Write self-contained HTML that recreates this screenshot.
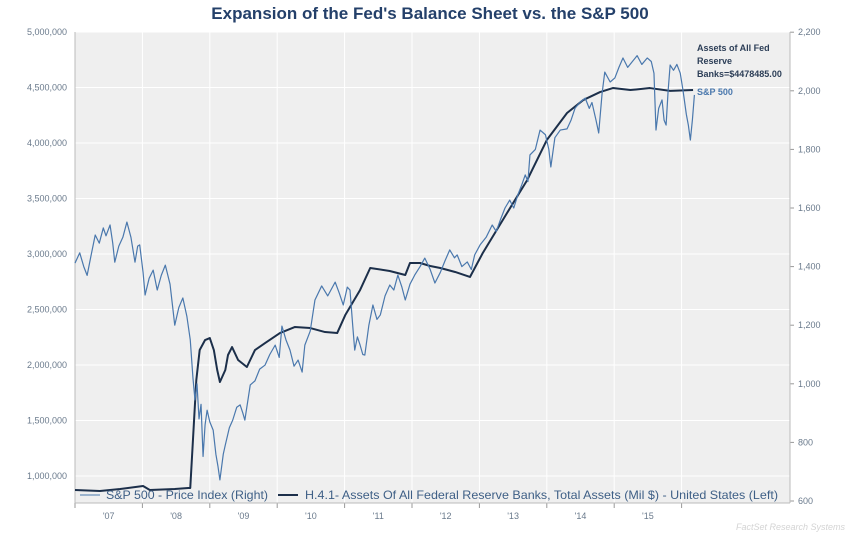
<!DOCTYPE html>
<html><head><meta charset="utf-8"><style>
html,body{margin:0;padding:0;background:#fff;}
svg{display:block;font-family:"Liberation Sans",sans-serif;}
</style></head><body>
<svg id="chart" width="852" height="534">
<text x="430" y="19" text-anchor="middle" font-size="17" font-weight="bold" fill="#24406a">Expansion of the Fed's Balance Sheet vs. the S&amp;P 500</text>
<rect x="75" y="32" width="715" height="471" fill="#efefef"/>
<g id="grid"></g><g id="axes"></g><g id="series"></g>
<g>
<line x1="80" y1="495" x2="100" y2="495" stroke="#4a78ad" stroke-width="1"/>
<text x="106" y="499" font-size="12" fill="#3e5f86" textLength="162" lengthAdjust="spacingAndGlyphs">S&amp;P 500 - Price Index (Right)</text>
<line x1="278" y1="495" x2="298" y2="495" stroke="#1c2f4a" stroke-width="2"/>
<text x="305" y="499" font-size="12" fill="#3e5f86" textLength="473" lengthAdjust="spacingAndGlyphs">H.4.1- Assets Of All Federal Reserve Banks, Total Assets (Mil $) - United States (Left)</text>
</g>
<g>
<text x="697" y="51" font-size="9" font-weight="bold" fill="#2c3e57"><tspan x="697">Assets of All Fed</tspan><tspan x="697" dy="13">Reserve</tspan><tspan x="697" dy="13">Banks=$4478485.00</tspan></text>
<text x="697" y="95" font-size="9" font-weight="bold" fill="#4a78ad">S&amp;P 500</text>
</g>
<text x="845" y="530" text-anchor="end" font-size="9" font-style="italic" fill="#d4d4d4">FactSet Research Systems</text>
</svg>
<script>
const leftTicks=[1000000,1500000,2000000,2500000,3000000,3500000,4000000,4500000,5000000];
const rightTicks=[600,800,1000,1200,1400,1600,1800,2000,2200];
const yearTicks=[2007,2008,2009,2010,2011,2012,2013,2014,2015,2016];
const yearLabels=["'07","'08","'09","'10","'11","'12","'13","'14","'15"];
const fedDates=[2007.0,2007.37,2007.67,2008.01,2008.11,2008.48,2008.68,2008.71,2008.75,2008.8,2008.85,2008.93,2009.0,2009.06,2009.11,2009.15,2009.23,2009.27,2009.33,2009.42,2009.55,2009.67,2009.82,2010.04,2010.26,2010.49,2010.71,2010.89,2011.01,2011.23,2011.38,2011.67,2011.9,2011.97,2012.12,2012.27,2012.42,2012.64,2012.86,2013.05,2013.41,2013.71,2014.0,2014.3,2014.54,2014.79,2014.98,2015.24,2015.53,2015.83,2016.17];
const fedValues=[874000,865000,883000,910000,874000,883000,892000,892000,1324000,1865000,2135000,2225000,2243000,2135000,1955000,1847000,1955000,2090000,2162000,2045000,1982000,2135000,2198000,2288000,2342000,2333000,2297000,2288000,2450000,2676000,2874000,2847000,2811000,2919000,2919000,2892000,2874000,2838000,2793000,3009000,3369000,3667000,4027000,4270000,4387000,4459000,4495000,4477000,4495000,4470000,4478000];
const spDates=[2007.0,2007.07,2007.13,2007.18,2007.24,2007.3,2007.36,2007.42,2007.46,2007.52,2007.56,2007.59,2007.65,2007.71,2007.77,2007.83,2007.89,2007.93,2007.96,2008.01,2008.04,2008.1,2008.16,2008.22,2008.28,2008.34,2008.41,2008.48,2008.54,2008.6,2008.66,2008.71,2008.75,2008.78,2008.81,2008.84,2008.87,2008.9,2008.93,2008.96,2009.0,2009.05,2009.09,2009.12,2009.15,2009.2,2009.23,2009.29,2009.34,2009.4,2009.45,2009.49,2009.52,2009.6,2009.67,2009.74,2009.82,2009.89,2009.97,2010.03,2010.07,2010.13,2010.19,2010.25,2010.31,2010.37,2010.41,2010.49,2010.56,2010.66,2010.75,2010.86,2010.92,2010.98,2011.04,2011.08,2011.12,2011.15,2011.19,2011.23,2011.27,2011.3,2011.36,2011.42,2011.48,2011.53,2011.6,2011.67,2011.73,2011.79,2011.85,2011.9,2011.97,2012.04,2012.12,2012.19,2012.27,2012.34,2012.42,2012.49,2012.56,2012.63,2012.67,2012.74,2012.82,2012.88,2012.93,2013.01,2013.1,2013.19,2013.25,2013.31,2013.38,2013.45,2013.51,2013.57,2013.63,2013.68,2013.72,2013.75,2013.83,2013.9,2013.98,2014.03,2014.06,2014.12,2014.2,2014.3,2014.36,2014.42,2014.49,2014.57,2014.63,2014.67,2014.73,2014.77,2014.82,2014.86,2014.94,2015.01,2015.07,2015.13,2015.2,2015.27,2015.34,2015.41,2015.49,2015.55,2015.59,2015.62,2015.66,2015.71,2015.74,2015.77,2015.8,2015.83,2015.88,2015.93,2015.98,2016.02,2016.07,2016.1,2016.13,2016.16,2016.19];
const spValues=[1412,1447,1400,1370,1440,1508,1480,1532,1505,1542,1480,1415,1470,1500,1552,1500,1415,1470,1474,1380,1303,1360,1388,1320,1370,1405,1340,1200,1260,1293,1230,1150,1020,945,1000,880,930,752,860,910,870,842,760,720,672,760,791,850,876,920,928,900,876,996,1010,1050,1064,1100,1132,1090,1197,1150,1115,1060,1081,1040,1132,1180,1286,1334,1300,1347,1310,1269,1330,1320,1200,1115,1160,1132,1100,1098,1200,1269,1220,1235,1300,1337,1320,1371,1330,1286,1340,1371,1400,1429,1390,1344,1380,1420,1457,1430,1440,1400,1416,1390,1440,1474,1500,1542,1520,1559,1600,1627,1600,1645,1680,1713,1690,1781,1800,1866,1850,1800,1740,1840,1866,1870,1900,1941,1960,1975,1940,1960,1900,1856,1990,2064,2030,2044,2080,2112,2080,2100,2120,2090,2112,2100,2060,1866,1940,1969,1900,1883,2000,2088,2070,2090,2060,2003,1920,1883,1832,1900,1986];

const NS="http://www.w3.org/2000/svg";
const X0=75,X1=790,Y0=32,Y1=503;
const xScale=t=>X0+(t-2007)*67.4;
const yLeft=v=>476-(v-1000000)/500000*55.5;
const yRight=v=>501-(v-600)/200*58.6;
function mk(tag,attrs,parent){const e=document.createElementNS(NS,tag);for(const k in attrs)e.setAttribute(k,attrs[k]);parent.appendChild(e);return e;}
const grid=document.getElementById('grid'),axes=document.getElementById('axes'),series=document.getElementById('series');
leftTicks.forEach(v=>{const y=yLeft(v);
 const g=mk('line',{x1:X0,x2:X1,y1:y,y2:y,stroke:'#ffffff','stroke-width':1},grid);
 
 
 const t=mk('text',{x:67,y:y+3,'text-anchor':'end','font-size':9,fill:'#6a7a8c'},axes);
 t.textContent=v.toLocaleString('en-US');
 
 
});
rightTicks.forEach(v=>{const y=yRight(v);
 mk('line',{x1:X1,x2:X1+4,y1:y,y2:y,stroke:'#999'},axes);
 const t=mk('text',{x:798,y:y+3,'font-size':9,fill:'#6a7a8c'},axes);
 t.textContent=v.toLocaleString('en-US');
 
 
});
yearTicks.forEach((yr,i)=>{const x=xScale(yr);
 const g=mk('line',{x1:x,x2:x,y1:Y0,y2:Y1,stroke:'#ffffff','stroke-width':1},grid);
 
 
 mk('line',{x1:x,x2:x,y1:Y1,y2:Y1+5,stroke:'#999'},axes);
 if(i<yearLabels.length){const t=mk('text',{x:x+33.7,y:519,'text-anchor':'middle','font-size':9,fill:'#6a7a8c'},axes);
  t.textContent=yearLabels[i];
  
  }
});
mk('line',{x1:X0,x2:X0,y1:Y0,y2:Y1,stroke:'#bbb'},axes);
mk('line',{x1:X1,x2:X1,y1:Y0,y2:Y1,stroke:'#bbb'},axes);
mk('line',{x1:X0,x2:X1,y1:Y1,y2:Y1,stroke:'#bbb'},axes);
const fedPath=mk('polyline',{points:fedDates.map((d,i)=>xScale(d)+','+yLeft(fedValues[i])).join(' '),fill:'none',stroke:'#1c2f4a','stroke-width':2,'stroke-linejoin':'round'},series);


const spPath=mk('polyline',{points:spDates.map((d,i)=>xScale(d)+','+yRight(spValues[i])).join(' '),fill:'none',stroke:'#4a78ad','stroke-width':1.2,'stroke-linejoin':'round'},series);


</script>
</body></html>
